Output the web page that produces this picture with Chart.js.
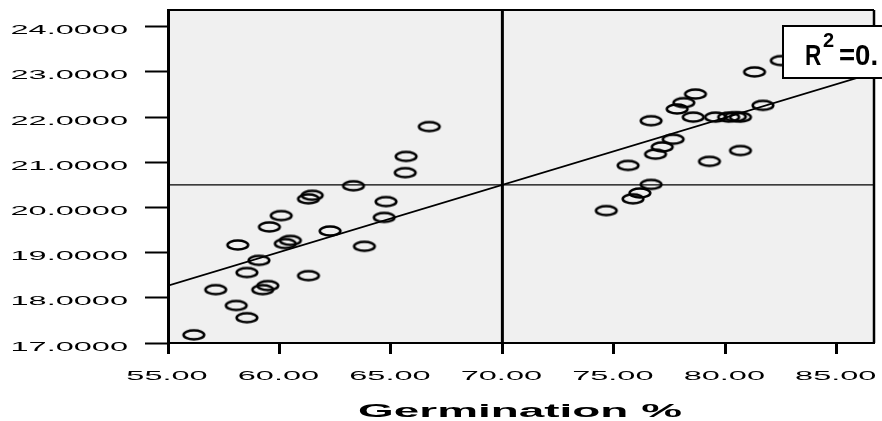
<!DOCTYPE html>
<html>
<head>
<meta charset="utf-8">
<script src="https://cdn.jsdelivr.net/npm/chart.js@4.4.1/dist/chart.umd.min.js"></script>
<style>
  body { margin: 0; background: #fff; }
  canvas { display: block; }
</style>
</head>
<body>
<canvas id="myChart" width="882" height="421"></canvas>
<script>
// Germination % (x) against the y variable, one point per sample
var germX = [56.16, 57.14, 58.06, 58.54, 58.54, 58.13, 59.08, 59.25, 59.48, 59.55, 60.08, 60.26,
    60.49, 61.30, 61.30, 61.47, 62.27, 63.32, 63.81, 64.70, 64.78, 65.64, 65.68, 66.72,
    74.66, 75.86, 76.17, 76.67, 75.64, 76.87, 77.17, 77.66, 79.29, 80.68, 76.67, 77.84,
    78.14, 78.66, 78.56, 79.56, 80.15, 80.45, 80.68, 81.69, 81.31, 82.51];
var valueY = [17.18, 18.18, 17.83, 17.56, 18.56, 19.17, 18.83, 18.18, 18.27, 19.57, 19.82, 19.20,
    19.27, 18.49, 20.19, 20.27, 19.48, 20.48, 19.14, 19.78, 20.13, 20.77, 21.13, 21.79,
    19.93, 20.19, 20.32, 20.51, 20.93, 21.18, 21.34, 21.51, 21.02, 21.26, 21.92, 22.18,
    22.32, 22.51, 22.00, 22.00, 22.00, 22.01, 22.00, 22.26, 23.00, 23.25];

// fit line ends and the two mean lines
var fitX = [55, 86.67];
var fitY = [18.27, 22.98];
var meanX = 70;
var meanY = 20.5;

var xTickLabels = ['55.00', '60.00', '65.00', '70.00', '75.00', '80.00', '85.00'];
var yTickLabels = ['17.0000', '18.0000', '19.0000', '20.0000', '21.0000', '22.0000', '23.0000', '24.0000'];
var xTitle = 'Germination %';

var xMin = 55, xMax = 86.67, yMin = 17, yMax = 24.37;

// open ellipse marker
var marker = document.createElement('canvas');
marker.width = 26;
marker.height = 14;
var mctx = marker.getContext('2d');
mctx.lineWidth = 2.6;
mctx.strokeStyle = '#000';
mctx.beginPath();
mctx.ellipse(13, 7, 10.3, 4.5, 0, 0, Math.PI * 2);
mctx.stroke();

var points = germX.map(function (x, i) { return { x: x, y: valueY[i] }; });

var plotFrame = {
    id: 'plotFrame',
    beforeDraw: function (chart) {
        var a = chart.chartArea, ctx = chart.ctx;
        ctx.save();
        ctx.fillStyle = '#f0f0f0';
        ctx.fillRect(a.left, a.top, a.right - a.left, a.bottom - a.top);
        ctx.restore();
    },
    afterDraw: function (chart) {
        var a = chart.chartArea, ctx = chart.ctx;
        var xs = chart.scales.x, ys = chart.scales.y;
        ctx.save();
        // top and right border
        ctx.strokeStyle = '#000';
        ctx.lineWidth = 2;
        ctx.beginPath();
        ctx.moveTo(a.left, a.top);
        ctx.lineTo(a.right, a.top);
        ctx.stroke();
        ctx.lineWidth = 2.5;
        ctx.beginPath();
        ctx.moveTo(a.right, a.top);
        ctx.lineTo(a.right, a.bottom);
        ctx.stroke();

        // stretched tick labels, like the original
        ctx.fillStyle = '#000';
        ctx.font = '13px "Liberation Sans", Arial, sans-serif';
        ctx.textBaseline = 'middle';
        yTickLabels.forEach(function (lab) {
            var py = ys.getPixelForValue(parseFloat(lab));
            ctx.save();
            ctx.translate(128, py + 4);
            ctx.scale(2.5, 1);
            ctx.textAlign = 'right';
            ctx.fillText(lab, 0, 0);
            ctx.restore();
        });
        xTickLabels.forEach(function (lab) {
            var px = xs.getPixelForValue(parseFloat(lab));
            ctx.save();
            ctx.translate(px - 1, 376);
            ctx.scale(2.5, 1);
            ctx.textAlign = 'center';
            ctx.fillText(lab, 0, 0);
            ctx.restore();
        });
        ctx.save();
        ctx.font = 'bold 18px "Liberation Sans", Arial, sans-serif';
        ctx.translate(520, 412);
        ctx.scale(2.55, 1);
        ctx.textAlign = 'center';
        ctx.fillText(xTitle, 0, 0);
        ctx.restore();

        // R squared box
        ctx.fillStyle = '#fff';
        ctx.fillRect(783, 26, 110, 52);
        ctx.lineWidth = 2;
        ctx.strokeRect(783, 26, 110, 52);
        ctx.fillStyle = '#000';
        ctx.textBaseline = 'alphabetic';
        ctx.textAlign = 'left';
        ctx.save();
        ctx.translate(805, 65);
        ctx.scale(0.78, 1);
        ctx.font = 'bold 29px "Liberation Sans", Arial, sans-serif';
        ctx.fillText('R', 0, 0);
        ctx.restore();
        ctx.save();
        ctx.translate(823, 47);
        ctx.font = 'bold 20px "Liberation Sans", Arial, sans-serif';
        ctx.fillText('2', 0, 0);
        ctx.restore();
        ctx.save();
        ctx.translate(839, 65);
        ctx.scale(0.95, 1);
        ctx.font = 'bold 29px "Liberation Sans", Arial, sans-serif';
        ctx.fillText('=0.', 0, 0);
        ctx.restore();
        ctx.restore();
    }
};

var ctx = document.getElementById('myChart').getContext('2d');
var chart = new Chart(ctx, {
    type: 'scatter',
    data: {
        datasets: [
            {
                label: 'Samples',
                data: points,
                pointStyle: marker,
                pointRadius: 7,
                order: 0
            },
            {
                label: 'Fit',
                type: 'line',
                data: [{ x: fitX[0], y: fitY[0] }, { x: fitX[1], y: fitY[1] }],
                borderColor: '#000',
                borderWidth: 1.8,
                pointRadius: 0,
                order: 1
            },
            {
                label: 'Mean Y',
                type: 'line',
                data: [{ x: xMin, y: meanY }, { x: xMax, y: meanY }],
                borderColor: '#000',
                borderWidth: 1.3,
                pointRadius: 0,
                order: 2
            },
            {
                label: 'Mean X',
                type: 'line',
                data: [{ x: meanX, y: yMin }, { x: meanX, y: yMax }],
                borderColor: '#000',
                borderWidth: 3,
                pointRadius: 0,
                order: 3
            }
        ]
    },
    options: {
        responsive: false,
        animation: false,
        layout: { padding: { left: 0, top: 10, right: 6, bottom: 0 } },
        plugins: {
            legend: { display: false },
            tooltip: { enabled: false }
        },
        scales: {
            x: {
                type: 'linear',
                min: xMin,
                max: xMax,
                ticks: { display: false, stepSize: 5, includeBounds: false },
                grid: { drawOnChartArea: false, drawTicks: true, tickLength: 11, tickWidth: 3, tickColor: '#000' },
                border: { display: true, color: '#000', width: 2 },
                afterFit: function (s) { s.height = 78; }
            },
            y: {
                type: 'linear',
                min: yMin,
                max: yMax,
                ticks: { display: false, stepSize: 1, includeBounds: false },
                grid: { drawOnChartArea: false, drawTicks: true, tickLength: 23, tickWidth: 2, tickColor: '#000' },
                border: { display: true, color: '#000', width: 3 },
                afterFit: function (s) { s.width = 168; }
            }
        }
    },
    plugins: [plotFrame]
});
</script>
</body>
</html>
